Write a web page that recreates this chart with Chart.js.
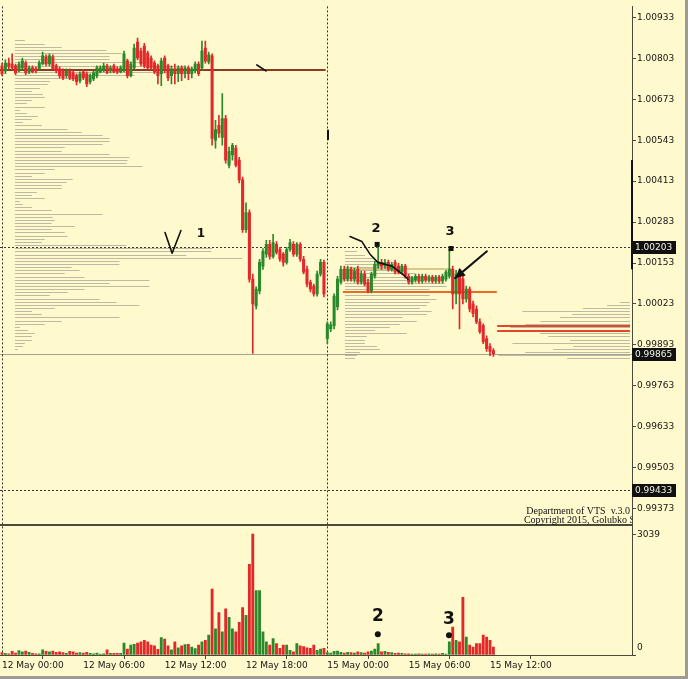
<!DOCTYPE html>
<html>
<head>
<meta charset="utf-8">
<script src="https://cdn.jsdelivr.net/npm/chart.js@4.4.1/dist/chart.umd.min.js"></script>
<style>
  html, body { margin: 0; padding: 0; background: #FFFACD; }
  canvas { display: block; }
</style>
</head>
<body>
<canvas id="chart" width="688" height="679"></canvas>
<script>
// =============== Data ===============
const TIME_TICKS = [0, 24, 48, 72, 96, 120, 144];
const TIME_LABELS = ['12 May 00:00', '12 May 06:00', '12 May 12:00', '12 May 18:00', '15 May 00:00', '15 May 06:00', '15 May 12:00'];
const PRICE_TICKS = [1.00933, 1.00803, 1.00673, 1.00543, 1.00413, 1.00283, 1.00153, 1.00023, 0.99893, 0.99763, 0.99633, 0.99503, 0.99373];
const VOLUME_TICKS = [3039, 0];
const MARKED_LEVELS = [1.00203, 0.99865, 0.99433];

const OPEN = [1.00779,1.00763,1.00788,1.00785,1.00779,1.00763,1.00773,1.00788,1.00760,1.00773,
  1.00770,1.00770,1.00785,1.00807,1.00785,1.00807,1.00779,1.00770,1.00763,1.00748,
  1.00763,1.00757,1.00748,1.00732,1.00760,1.00754,1.00729,1.00738,1.00748,1.00760,
  1.00766,1.00779,1.00763,1.00779,1.00770,1.00760,1.00763,1.00795,1.00748,1.00773,
  1.00855,1.00826,1.00842,1.00820,1.00804,1.00788,1.00779,1.00754,1.00804,1.00779,
  1.00748,1.00770,1.00754,1.00773,1.00754,1.00773,1.00754,1.00763,1.00785,1.00773,
  1.00836,1.00792,1.00811,1.00543,1.00590,1.00552,1.00612,1.00464,1.00496,1.00518,
  1.00480,1.00417,1.00259,1.00313,1.00102,1.00017,1.00064,1.00143,1.00181,1.00212,
  1.00174,1.00212,1.00196,1.00181,1.00155,1.00196,1.00212,1.00181,1.00212,1.00165,
  1.00133,1.00092,1.00080,1.00055,1.00118,1.00155,0.99913,0.99944,0.99954,1.00014,
  1.00092,1.00133,1.00102,1.00133,1.00102,1.00133,1.00092,1.00118,1.00092,1.00064,
  1.00111,1.00143,1.00155,1.00143,1.00155,1.00133,1.00155,1.00143,1.00124,1.00143,
  1.00111,1.00092,1.00099,1.00111,1.00095,1.00111,1.00099,1.00108,1.00095,1.00108,
  1.00095,1.00102,1.00111,1.00133,1.00055,1.00124,1.00102,1.00039,1.00070,1.00023,
  1.00007,0.99966,0.99954,0.99913,0.99888,0.99875];
const HIGH = [1.00788,1.00798,1.00804,1.00817,1.00785,1.00792,1.00804,1.00795,1.00779,1.00779,
  1.00776,1.00795,1.00823,1.00814,1.00817,1.00814,1.00785,1.00776,1.00770,1.00770,
  1.00770,1.00763,1.00754,1.00760,1.00766,1.00760,1.00754,1.00763,1.00779,1.00779,
  1.00788,1.00785,1.00779,1.00785,1.00776,1.00779,1.00826,1.00801,1.00792,1.00848,
  1.00867,1.00836,1.00851,1.00826,1.00811,1.00795,1.00785,1.00804,1.00811,1.00785,
  1.00779,1.00785,1.00779,1.00779,1.00779,1.00779,1.00776,1.00792,1.00792,1.00858,
  1.00858,1.00823,1.00817,1.00606,1.00622,1.00691,1.00622,1.00521,1.00533,1.00527,
  1.00489,1.00426,1.00344,1.00322,1.00118,1.00077,1.00165,1.00199,1.00225,1.00225,
  1.00244,1.00221,1.00203,1.00187,1.00203,1.00228,1.00221,1.00218,1.00218,1.00174,
  1.00143,1.00099,1.00086,1.00127,1.00165,1.00162,0.99966,0.99966,1.00055,1.00111,
  1.00143,1.00143,1.00143,1.00140,1.00136,1.00143,1.00127,1.00127,1.00102,1.00124,
  1.00158,1.00212,1.00165,1.00165,1.00162,1.00155,1.00162,1.00152,1.00149,1.00149,
  1.00118,1.00111,1.00118,1.00118,1.00118,1.00118,1.00114,1.00114,1.00114,1.00114,
  1.00118,1.00130,1.00196,1.00143,1.00130,1.00133,1.00111,1.00080,1.00077,1.00032,
  1.00017,0.99976,0.99960,0.99922,0.99897,0.99881];
const LOW = [1.00748,1.00754,1.00770,1.00766,1.00751,1.00760,1.00766,1.00751,1.00754,1.00757,
  1.00757,1.00766,1.00782,1.00779,1.00779,1.00766,1.00757,1.00741,1.00735,1.00741,
  1.00735,1.00732,1.00719,1.00725,1.00735,1.00713,1.00722,1.00732,1.00741,1.00757,
  1.00760,1.00754,1.00757,1.00757,1.00754,1.00757,1.00760,1.00741,1.00744,1.00770,
  1.00798,1.00779,1.00773,1.00766,1.00766,1.00754,1.00722,1.00716,1.00757,1.00732,
  1.00722,1.00722,1.00729,1.00732,1.00741,1.00735,1.00741,1.00757,1.00748,1.00766,
  1.00788,1.00785,1.00527,1.00518,1.00552,1.00527,1.00470,1.00455,1.00480,1.00458,
  1.00407,1.00250,1.00250,1.00092,0.99866,1.00007,1.00055,1.00133,1.00171,1.00165,
  1.00168,1.00181,1.00158,1.00143,1.00149,1.00190,1.00174,1.00174,1.00158,1.00118,
  1.00077,1.00061,1.00048,1.00048,1.00111,1.00045,0.99897,0.99935,0.99944,1.00004,
  1.00086,1.00095,1.00095,1.00095,1.00092,1.00086,1.00086,1.00080,1.00058,1.00058,
  1.00105,1.00136,1.00133,1.00136,1.00127,1.00127,1.00118,1.00118,1.00118,1.00105,
  1.00086,1.00086,1.00092,1.00089,1.00089,1.00092,1.00092,1.00089,1.00089,1.00089,
  1.00089,1.00095,1.00105,1.00007,1.00023,0.99944,1.00023,1.00029,0.99998,0.99982,
  0.99960,0.99929,0.99897,0.99872,0.99859,0.99856];
const CLOSE = [1.00754,1.00788,1.00776,1.00773,1.00757,1.00785,1.00795,1.00757,1.00773,1.00760,
  1.00763,1.00788,1.00811,1.00785,1.00811,1.00770,1.00763,1.00748,1.00741,1.00763,
  1.00741,1.00738,1.00729,1.00754,1.00741,1.00722,1.00748,1.00757,1.00773,1.00773,
  1.00779,1.00757,1.00773,1.00760,1.00760,1.00773,1.00817,1.00748,1.00785,1.00836,
  1.00804,1.00785,1.00779,1.00773,1.00773,1.00760,1.00748,1.00795,1.00763,1.00741,
  1.00770,1.00754,1.00773,1.00754,1.00773,1.00754,1.00770,1.00785,1.00754,1.00826,
  1.00795,1.00814,1.00549,1.00577,1.00565,1.00612,1.00480,1.00508,1.00527,1.00464,
  1.00417,1.00259,1.00313,1.00102,1.00023,1.00070,1.00155,1.00190,1.00212,1.00174,
  1.00218,1.00187,1.00165,1.00155,1.00196,1.00218,1.00181,1.00212,1.00165,1.00124,
  1.00086,1.00070,1.00055,1.00118,1.00155,1.00055,0.99960,0.99957,1.00048,1.00102,
  1.00133,1.00102,1.00133,1.00102,1.00127,1.00092,1.00118,1.00086,1.00064,1.00118,
  1.00149,1.00155,1.00143,1.00155,1.00133,1.00149,1.00124,1.00124,1.00143,1.00111,
  1.00092,1.00105,1.00111,1.00095,1.00111,1.00099,1.00108,1.00095,1.00108,1.00095,
  1.00111,1.00124,1.00133,1.00055,1.00118,1.00055,1.00039,1.00070,1.00007,0.99992,
  0.99966,0.99935,0.99903,0.99881,0.99872,0.99865];
const VOLUME = [60,40,30,90,50,110,80,100,70,40,
  30,30,130,90,80,100,70,80,60,40,
  90,80,50,60,50,70,40,30,50,20,
  30,130,40,40,40,40,300,150,250,270,
  300,330,370,330,250,230,140,440,400,230,
  130,330,180,230,260,270,200,160,250,330,
  370,500,1660,660,1070,580,1160,950,660,580,
  820,1190,1000,2280,3039,1620,1620,580,330,250,
  410,290,170,250,250,120,80,290,230,210,
  180,170,250,120,150,170,60,50,90,100,
  70,50,70,60,50,80,60,50,80,100,
  150,290,80,90,70,60,40,50,40,30,
  30,20,20,30,20,20,30,20,30,20,
  40,20,330,700,370,330,1450,450,250,200,
  290,290,500,450,370,200];

// price-volume profiles, one row per pip, from the top row down
const PROFILE_STEP = 0.0001;
const PROFILE1_TOP = 1.00860;
const PROFILE1 = [10,30,47,92,107,95,95,140,170,190,160,120,60,35,33,25,17,28,30,17,
  12,30,5,12,23,17,8,27,53,67,88,95,95,88,50,47,95,115,113,112,
  128,40,30,17,58,52,47,47,22,17,30,5,8,17,37,88,38,40,37,60,
  37,50,53,30,27,112,198,197,172,228,105,105,57,65,50,70,135,95,135,70,
  53,35,85,102,125,40,17,27,105,47,30,5,13,20,17,17,10,8,3];
const PROFILE2_TOP = 1.00190;
const PROFILE2 = [12,20,28,35,40,45,60,70,80,90,100,102,85,95,85,92,85,82,75,87,
  82,58,72,55,45,30,62,22,20,20,32,35,15,12,10];
const PROFILE3_TOP = 1.00030;
const PROFILE3 = [10,23,47,108,58,70,90,105,120,110,90,82,60,118,57,77,105,132,63];

// =============== Styles ===============
const BG = '#FFFACD';
const GREEN = '#2A8A2A';
const RED = '#E3282A';
const AXIS = '#4A4A3C';
const TEXT = '#141414';
const FONT = 'DejaVu Sans';
const PROFILE_UNITS_PER_BAR = 3.4;

const idx = OPEN.map((_, i) => i);
const candleColor = idx.map(i => CLOSE[i] >= OPEN[i] ? GREEN : RED);

const PROFILES = [
  { top: PROFILE1_TOP, values: PROFILE1, anchor: 3.8, dir: 1 },
  { top: PROFILE2_TOP, values: PROFILE2, anchor: 101.2, dir: 1 },
  { top: PROFILE3_TOP, values: PROFILE3, anchor: 185.3, dir: -1 },
];
const LEVEL_LINES = [
  { price: 1.00766, from: -0.6, to: 95.5, color: '#8E3B24', width: 2 },
  { price: 1.00133, from: 100.6, to: 132.8, color: '#D2B96C', width: 1.5 },
  { price: 1.00061, from: 100.6, to: 146.0, color: '#EE6A22', width: 2 },
  { price: 0.99954, from: 146.1, to: 185.3, color: '#E6452C', width: 2 },
  { price: 0.99938, from: 146.1, to: 185.3, color: '#E6452C', width: 2 },
];

function line(ctx, pts) {
  ctx.beginPath();
  pts.forEach((p, k) => k ? ctx.lineTo(p[0], p[1]) : ctx.moveTo(p[0], p[1]));
  ctx.stroke();
}

const overlay = {
  id: 'overlay',
  beforeDraw(chart) {
    const { ctx, width, height } = chart;
    ctx.save();
    ctx.fillStyle = BG;
    ctx.fillRect(0, 0, width, height);
    ctx.restore();
  },
  beforeDatasetsDraw(chart) {
    const { ctx, chartArea: a } = chart;
    const xs = chart.scales.x, ys = chart.scales.y;
    ctx.save();
    ctx.beginPath();
    ctx.rect(a.left, ys.top, a.right - a.left, ys.bottom - ys.top);
    ctx.clip();

    // volume profiles
    ctx.strokeStyle = '#BDBAA2';
    ctx.lineWidth = 1;
    PROFILES.forEach(p => {
      const x0 = xs.getPixelForValue(p.anchor);
      p.values.forEach((v, k) => {
        const y = Math.round(ys.getPixelForValue(p.top - k * PROFILE_STEP)) + 0.5;
        const x1 = xs.getPixelForValue(p.anchor + p.dir * v / PROFILE_UNITS_PER_BAR);
        line(ctx, [[x0, y], [x1, y]]);
      });
    });

    LEVEL_LINES.forEach(l => {
      const y = Math.round(ys.getPixelForValue(l.price));
      ctx.strokeStyle = l.color;
      ctx.lineWidth = l.width;
      line(ctx, [[xs.getPixelForValue(l.from), y], [xs.getPixelForValue(l.to), y]]);
    });

    // bid line
    ctx.strokeStyle = '#A3A294';
    ctx.lineWidth = 1;
    const bid = Math.round(ys.getPixelForValue(MARKED_LEVELS[1])) + 0.5;
    line(ctx, [[a.left, bid], [a.right, bid]]);

    // dotted levels
    ctx.strokeStyle = '#333';
    ctx.setLineDash([2, 2]);
    [MARKED_LEVELS[0], MARKED_LEVELS[2]].forEach(v => {
      const y = Math.round(ys.getPixelForValue(v)) + 0.5;
      line(ctx, [[a.left, y], [a.right, y]]);
    });
    ctx.restore();

    // day separators over both panes
    ctx.save();
    ctx.strokeStyle = '#333';
    ctx.setLineDash([2, 2]);
    [0, 96].forEach(i => {
      const x = Math.round(xs.getPixelForValue(i)) + 0.5;
      line(ctx, [[x, a.top], [x, a.bottom]]);
    });
    ctx.restore();
  },
  afterDatasetsDraw(chart) {
    const { ctx } = chart;
    const xs = chart.scales.x, ys = chart.scales.y, vs = chart.scales.yv;
    const P = (i, p) => [xs.getPixelForValue(i), ys.getPixelForValue(p)];
    const V = (i, v) => [xs.getPixelForValue(i), vs.getPixelForValue(v)];
    ctx.save();
    ctx.strokeStyle = '#111';
    ctx.fillStyle = '#111';
    ctx.lineCap = 'round';
    ctx.lineJoin = 'round';

    // hand-drawn marks
    ctx.lineWidth = 1.6;
    line(ctx, [P(48.1, 1.00250), P(50.2, 1.00184), P(52.8, 1.00256)]);
    line(ctx, [P(102.7, 1.00237), P(106.2, 1.00221), P(108.6, 1.00181), P(110.9, 1.00155),
               P(115.1, 1.00143), P(118.9, 1.00111), P(119.8, 1.00102)]);
    line(ctx, [P(75.2, 1.00782), P(77.9, 1.00763)]);
    ctx.lineWidth = 2;
    line(ctx, [P(96.2, 1.00574), P(96.2, 1.00546)]);
    const tail = P(143.1, 1.00190), tip = P(133.7, 1.00105);
    line(ctx, [tail, tip]);
    const ang = Math.atan2(tip[1] - tail[1], tip[0] - tail[0]);
    ctx.beginPath();
    ctx.moveTo(tip[0], tip[1]);
    ctx.lineTo(tip[0] - 11 * Math.cos(ang - 0.45), tip[1] - 11 * Math.sin(ang - 0.45));
    ctx.lineTo(tip[0] - 11 * Math.cos(ang + 0.45), tip[1] - 11 * Math.sin(ang + 0.45));
    ctx.closePath();
    ctx.fill();

    // numbered points
    ctx.textAlign = 'center';
    ctx.textBaseline = 'middle';
    ctx.font = `bold 12px ${FONT}`;
    let p = P(58.7, 1.00247); ctx.fillText('1', p[0], p[1]);
    ctx.font = `bold 13px ${FONT}`;
    p = P(110.4, 1.00262); ctx.fillText('2', p[0], p[1]);
    p = P(132.2, 1.00253); ctx.fillText('3', p[0], p[1]);
    p = P(110.7, 1.00212); ctx.fillRect(p[0] - 2.5, p[1] - 2.5, 5, 5);
    p = P(132.5, 1.00199); ctx.fillRect(p[0] - 2.5, p[1] - 2.5, 5, 5);

    ctx.font = `bold 17px ${FONT}`;
    p = V(110.9, 971); ctx.fillText('2', p[0], p[1]);
    p = V(131.9, 897); ctx.fillText('3', p[0], p[1]);
    [[110.9, 523], [131.9, 498]].forEach(d => {
      const q = V(d[0], d[1]);
      ctx.beginPath(); ctx.arc(q[0], q[1], 3, 0, Math.PI * 2); ctx.fill();
    });
    ctx.restore();
  },
  afterDraw(chart) {
    const { ctx, chartArea: a, width, height } = chart;
    const ys = chart.scales.y, vs = chart.scales.yv;
    ctx.save();

    // pane separator
    ctx.fillStyle = AXIS;
    ctx.fillRect(a.left, Math.round(vs.top) - 1, a.right - a.left, 2);

    // indicator bar on the price scale
    ctx.fillStyle = '#111';
    const t = ys.getPixelForValue(1.00480), b = ys.getPixelForValue(1.00133);
    ctx.fillRect(a.right - 1, t, 2, b - t);

    // volume scale labels
    ctx.fillStyle = TEXT;
    ctx.font = `9px ${FONT}`;
    ctx.textAlign = 'left';
    ctx.textBaseline = 'middle';
    VOLUME_TICKS.forEach(v => {
      const y = Math.min(vs.getPixelForValue(v), vs.bottom - 7);
      ctx.fillText(String(v), a.right + 5, y);
    });

    // highlighted price labels
    MARKED_LEVELS.forEach(v => {
      const y = ys.getPixelForValue(v);
      ctx.fillStyle = '#101010';
      ctx.fillRect(a.right, Math.round(y) - 6, 44, 13);
      ctx.fillStyle = '#F4F2E4';
      ctx.fillText(v.toFixed(5), a.right + 3, y + 0.5);
    });

    // copyright
    ctx.fillStyle = '#111';
    ctx.font = `10px Liberation Serif`;
    ctx.textAlign = 'right';
    ctx.beginPath(); ctx.rect(a.left, 0, a.right - a.left, ys.bottom); ctx.clip();
    ctx.fillText('Department of VTS  v.3.0', a.right - 2, ys.bottom - 14);
    ctx.fillText('Copyright 2015, Golubko S', a.right + 3, ys.bottom - 5);
    ctx.restore();

    // window frame
    ctx.save();
    ctx.fillStyle = '#9C9C94';
    ctx.fillRect(width - 3, 0, 3, height);
    ctx.fillRect(0, height - 3, width, 3);
    ctx.restore();
  }
};

// =============== Chart ===============
new Chart(document.getElementById('chart'), {
  type: 'bar',
  data: {
    datasets: [
      { label: 'Body', data: idx.map(i => ({ x: i, y: [OPEN[i], CLOSE[i]] })), backgroundColor: candleColor,
        barThickness: 2.4, grouped: false, yAxisID: 'y', order: 0 },
      { label: 'Wick', data: idx.map(i => ({ x: i, y: [LOW[i], HIGH[i]] })), backgroundColor: candleColor,
        barThickness: 1, grouped: false, yAxisID: 'y', order: 1 },
      { label: 'Volume', data: idx.map(i => ({ x: i, y: VOLUME[i] })), backgroundColor: candleColor,
        barThickness: 2.2, grouped: false, yAxisID: 'yv', order: 2 },
    ]
  },
  options: {
    responsive: false, animation: false, devicePixelRatio: 1,
    layout: { padding: { left: 0, right: 2, top: 0, bottom: 0 } },
    plugins: { legend: { display: false }, tooltip: { enabled: false } },
    scales: {
      x: {
        type: 'linear', position: 'bottom', min: -0.59, max: 185.9, offset: false,
        afterBuildTicks: s => { s.ticks = TIME_TICKS.map(v => ({ value: v })); },
        afterFit: s => { s.height = 24; },
        grid: { drawOnChartArea: false, tickLength: 4, color: AXIS },
        border: { color: AXIS },
        ticks: { align: 'start', maxRotation: 0, autoSkip: false, padding: 1, color: TEXT,
                 font: { family: FONT, size: 9 },
                 callback: v => TIME_LABELS[TIME_TICKS.indexOf(v)] }
      },
      y: {
        type: 'linear', position: 'right', stack: 'panes', stackWeight: 524,
        min: 0.99320, max: 1.00968,
        afterBuildTicks: s => { s.ticks = PRICE_TICKS.map(v => ({ value: v })); },
        afterFit: s => { s.width = 54; },
        grid: { drawOnChartArea: false, tickLength: 4, color: AXIS },
        border: { color: AXIS },
        ticks: { autoSkip: false, padding: 1, color: TEXT, font: { family: FONT, size: 9 },
                 callback: v => v.toFixed(5) }
      },
      yv: {
        type: 'linear', position: 'right', stack: 'panes', stackWeight: 131,
        min: 0, max: 3263,
        afterBuildTicks: s => { s.ticks = VOLUME_TICKS.map(v => ({ value: v })); },
        afterFit: s => { s.width = 54; },
        grid: { drawOnChartArea: false, tickLength: 4, color: AXIS },
        border: { color: AXIS },
        ticks: { display: false }
      }
    }
  },
  plugins: [overlay]
});
</script>
</body>
</html>
